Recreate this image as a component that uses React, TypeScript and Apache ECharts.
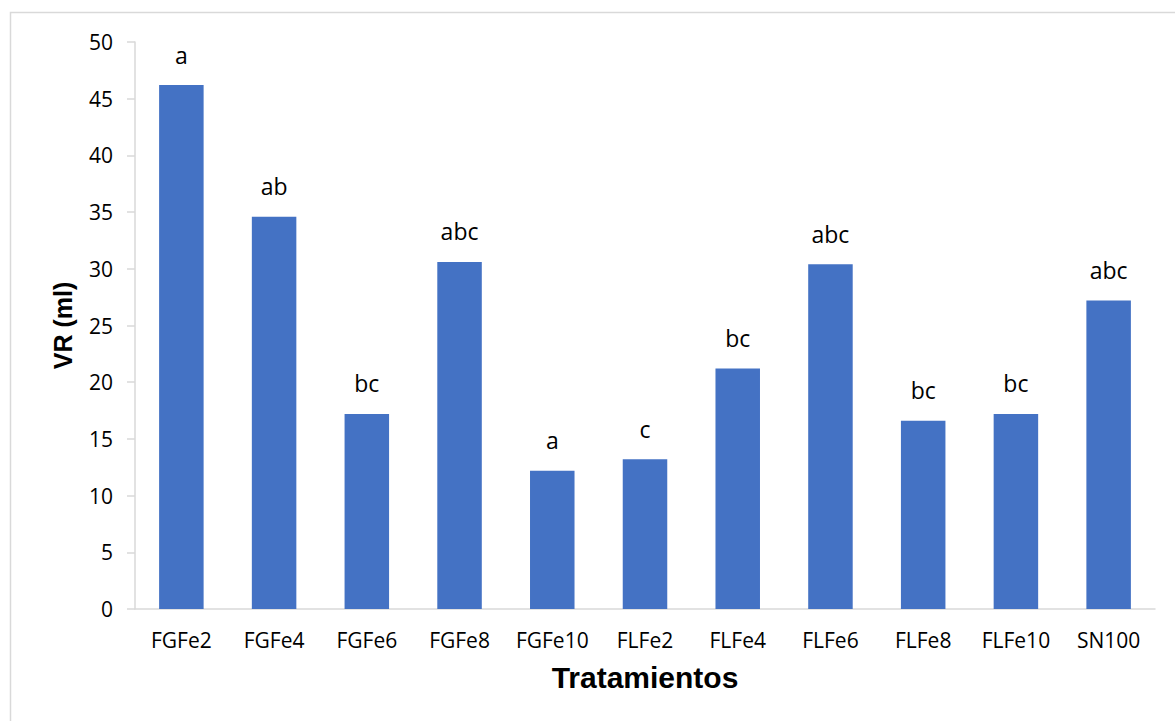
import React, { useEffect, useRef } from "react";
import * as echarts from "echarts";

const categories = ["FGFe2", "FGFe4", "FGFe6", "FGFe8", "FGFe10", "FLFe2", "FLFe4", "FLFe6", "FLFe8", "FLFe10", "SN100"];
const values = [46.2, 34.6, 17.2, 30.6, 12.2, 13.2, 21.2, 30.4, 16.6, 17.2, 27.2];
const letters = ["a", "ab", "bc", "abc", "a", "c", "bc", "abc", "bc", "bc", "abc"];
const yTicks = { min: 0, max: 50, interval: 5 };

export default function App() {
  const ref = useRef<HTMLDivElement>(null);
  useEffect(() => {
    if (!ref.current) return;
    const chart = echarts.init(ref.current, undefined, { renderer: "svg" });
    const font = "'Open Sans', sans-serif";
    chart.setOption({
      animation: false,
      backgroundColor: "#ffffff",
      graphic: [
        {
          type: "rect",
          shape: { x: 10.5, y: 12.5, width: 1400, height: 900 },
          style: { fill: "none", stroke: "#d9d9d9", lineWidth: 1.5 },
          silent: true,
        },
      ],
      grid: { left: 135, right: 20, top: 42, bottom: 112, containLabel: false },
      xAxis: {
        type: "category",
        data: categories,
        name: "Tratamientos",
        nameLocation: "middle",
        nameGap: 53,
        nameTextStyle: { fontFamily: "'Liberation Sans', Arial, sans-serif", fontWeight: "bold", fontSize: 30, color: "#000" },
        axisLine: { show: true, lineStyle: { color: "#d9d9d9", width: 1.5 } },
        axisTick: { show: false },
        axisLabel: { fontFamily: font, fontSize: 21, color: "#000", margin: 20, interval: 0 },
      },
      yAxis: {
        type: "value",
        min: yTicks.min,
        max: yTicks.max,
        interval: yTicks.interval,
        name: "VR (ml)",
        nameLocation: "middle",
        nameGap: 60,
        nameTextStyle: { fontFamily: "'Liberation Sans', Arial, sans-serif", fontWeight: "bold", fontSize: 25, color: "#000" },
        axisLine: { show: true, lineStyle: { color: "#d9d9d9", width: 1.5 } },
        axisTick: { show: true, inside: false, length: 8, lineStyle: { color: "#d9d9d9", width: 1.5 } },
        splitLine: { show: false },
        axisLabel: { fontFamily: font, fontSize: 21, color: "#000", margin: 22 },
      },
      series: [
        {
          type: "bar",
          data: values,
          barWidth: "48%",
          itemStyle: { color: "#4472C4" },
          label: {
            show: true,
            position: "top",
            distance: 19,
            fontFamily: font,
            fontSize: 23,
            color: "#000",
            formatter: (p: any) => letters[p.dataIndex],
          },
        },
      ],
    });
    return () => chart.dispose();
  }, []);
  return <div ref={ref} style={{ position: "fixed", left: 0, top: 0, width: 1175, height: 721 }} />;
}
